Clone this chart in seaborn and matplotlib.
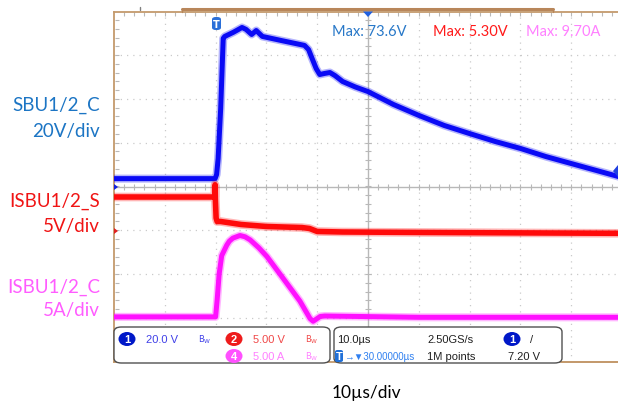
import numpy as np
import pandas as pd
import matplotlib
matplotlib.use("Agg")
import matplotlib.pyplot as plt
import seaborn as sns
from matplotlib.patches import FancyBboxPatch, Ellipse, Polygon

# ---- captured waveforms (time in µs) ----
# CH1: SBU1/2_C voltage, 20 V/div
t_ch1 = [0, 19.9, 20.2, 20.5, 21.0, 21.5, 21.8, 23.5, 25.2, 26.0, 27.1, 28.0, 29.2,
         33.0, 37.5, 38.3, 39.0, 39.8, 40.5, 41.5, 42.5, 43.5, 45.0, 47.5, 50.0,
         55.0, 60.0, 65.0, 70.0, 75.0, 80.0, 85.0, 90.0, 95.0, 100.0]
v_ch1 = [3.6, 3.6, 5.5, 12.8, 35.7, 67.7, 68.6, 70.5, 72.7, 71.8, 69.5, 71.3, 68.6,
         66.7, 64.5, 62.6, 58.5, 53.9, 51.2, 51.7, 52.1, 50.7, 48.0, 45.5, 43.4,
         37.5, 32.5, 27.9, 24.2, 20.6, 17.4, 13.7, 10.5, 7.3, 4.1]

# CH2: ISBU1/2_S voltage, 5 V/div
t_ch2 = [0, 19.85, 19.9, 19.95, 20.1, 20.3, 21.0, 25.0, 30.0, 37.0, 38.5, 40.0,
         45.0, 60.0, 80.0, 100.0]
v_ch2 = [3.8, 3.8, 5.2, 3.6, 1.4, 1.0, 1.0, 0.66, 0.43, 0.31, 0.2, -0.14,
         -0.2, -0.25, -0.3, -0.35]

# CH4: ISBU1/2_C current, 5 A/div
t_ch4 = [0, 20.0, 20.3, 20.7, 21.2, 22.2, 22.7, 23.4, 24.8, 25.8, 26.8, 28.5,
         30.1, 33.3, 36.6, 38.6, 39.2, 40.6, 41.5, 60.0, 100.0]
i_ch4 = [0.1, 0.1, 2.0, 5.0, 7.1, 8.3, 8.75, 9.1, 9.4, 9.25, 8.9, 8.0,
         7.0, 4.5, 1.9, -0.1, -0.4, 0.15, 0.2, 0.05, 0.05]

# channel scale (per div) and ground position (div from centre)
ch1_scale, ch1_pos = 20.0, 0
ch2_scale, ch2_pos = 5.0, -1
ch4_scale, ch4_pos = 5.0, -3

sns.set_theme(style="white")
plt.rcParams['font.family'] = ['Lato', 'DejaVu Sans']

W, H = 618, 406
fig = plt.figure(figsize=(W / 100, H / 100), dpi=100)
fig.patch.set_facecolor('white')


def fx(px):
    return px / W


def fy(py):
    return 1 - py / H


X0, X1 = 114, 622
Y0, Y1 = 12.5, 362.5
rect = [fx(X0), fy(Y1), (X1 - X0) / W, (Y1 - Y0) / H]

# graticule axes, in divisions
ax = fig.add_axes(rect)
ax.set_xlim(0, 100)
ax.set_ylim(-4, 4)
ax.set_facecolor('white')
ax.set_xticks([])
ax.set_yticks([])
for s in ['left', 'top', 'bottom']:
    ax.spines[s].set_color('#C49A6C')
    ax.spines[s].set_linewidth(1.3)
ax.spines['right'].set_visible(False)

grid_c = '#CACACA'
for xv in range(10, 100, 10):
    if xv != 50:
        ax.axvline(xv, color=grid_c, lw=0.9, ls=(0, (1, 4)), zorder=0)
for yv in range(-3, 4):
    if yv != 0:
        ax.axhline(yv, color=grid_c, lw=0.9, ls=(0, (1, 4)), zorder=0)
ax.axvline(50, color='#B8B8B8', lw=1.0, zorder=0)
ax.axhline(0, color='#B8B8B8', lw=1.0, zorder=0)
# minor ticks on centre lines and edges
xt = np.arange(2, 100, 2)
yt = np.arange(-3.8, 4.0, 0.2)
ax.scatter(xt, np.zeros_like(xt), marker='|', s=14, color='#B8B8B8', lw=0.8, zorder=0)
ax.scatter(np.full_like(yt, 50), yt, marker='_', s=14, color='#B8B8B8', lw=0.8, zorder=0)
ax.scatter(xt, np.full_like(xt, 3.95, dtype=float), marker='|', s=8, color='#B8B8B8', lw=0.8, zorder=0)
ax.scatter(np.full_like(yt, 0.6), yt, marker='_', s=8, color='#B8B8B8', lw=0.8, zorder=0)


# one overlay axes per channel, each in its own physical units
def channel_axes(scale, pos):
    a = fig.add_axes(rect, sharex=ax)
    a.set_ylim((-4 - pos) * scale, (4 - pos) * scale)
    a.set_xlim(0, 100)
    a.patch.set_alpha(0)
    a.axis('off')
    return a


ax1 = channel_axes(ch1_scale, ch1_pos)
ax2 = channel_axes(ch2_scale, ch2_pos)
ax4 = channel_axes(ch4_scale, ch4_pos)

df1 = pd.DataFrame({'t': t_ch1, 'v': v_ch1})
df2 = pd.DataFrame({'t': t_ch2, 'v': v_ch2})
df4 = pd.DataFrame({'t': t_ch4, 'v': i_ch4})


def trace(df, a, color, lw):
    # soft outer edge of the acquisition band, then its solid core
    sns.lineplot(data=df, x='t', y='v', ax=a, color=color, lw=lw + 2.2, alpha=0.3,
                 estimator=None, sort=False, solid_joinstyle='round')
    sns.lineplot(data=df, x='t', y='v', ax=a, color=color, lw=lw,
                 estimator=None, sort=False, solid_joinstyle='round')
    a.set_xlim(0, 100)
    a.axis('off')


trace(df1, ax1, '#0A0AF5', 3.6)
trace(df2, ax2, '#FF0A0A', 4.0)
trace(df4, ax4, '#FF10FF', 3.6)


# ---- markers on the display edges ----
def tri(points, color):
    fig.patches.append(Polygon([(fx(x), fy(y)) for x, y in points], closed=True,
                               transform=fig.transFigure, color=color, lw=0))


tri([(114, 185), (118, 188), (114, 191)], '#1020E0')      # CH1 ground
tri([(114, 229), (118, 232), (114, 235)], '#E02020')      # CH2 ground
tri([(363, 12.5), (373, 12.5), (368, 18)], '#2060E0')     # horizontal position
tri([(618, 166), (613, 172), (618, 178)], '#2040E0')      # trigger level

# record overview bar above the display
fig.add_artist(plt.Line2D([fx(182), fx(553)], [fy(10), fy(10)], color='#B8865A', lw=2.2))
fig.add_artist(plt.Line2D([fx(182), fx(182)], [fy(10), fy(13)], color='#B8865A', lw=1))
fig.add_artist(plt.Line2D([fx(553), fx(553)], [fy(10), fy(13)], color='#B8865A', lw=1))
fig.add_artist(plt.Line2D([fx(140), fx(140)], [fy(8), fy(11)], color='#808080', lw=1))
fig.patches.append(FancyBboxPatch((fx(348), fy(12)), 4 / W, 3 / H, boxstyle='square,pad=0',
                                  transform=fig.transFigure, color='#3070E0', lw=0))

# trigger point "T"
fig.patches.append(FancyBboxPatch((fx(212), fy(31)), 9 / W, 13 / H,
                                  boxstyle='round,pad=0,rounding_size=0.006',
                                  transform=fig.transFigure, color='#2A6FD8', lw=0))
fig.text(fx(216.5), fy(24.5), 'T', color='white', fontsize=7, fontweight='bold',
         ha='center', va='center', family=['DejaVu Sans'])

# ---- measurement readouts ----
fig.text(fx(332), fy(32), 'Max: 73.6V', color='#2878C8', fontsize=10.5, va='center')
fig.text(fx(433), fy(32), 'Max: 5.30V', color='#FF1A1A', fontsize=10.5, va='center')
fig.text(fx(526), fy(32), 'Max: 9.70A', color='#FF80FF', fontsize=10.5, va='center')

# ---- channel labels ----
lab = dict(fontsize=13.5, ha='right', va='center')
fig.text(fx(100), fy(105), 'SBU1/2_C', color='#1C75C4', **lab)
fig.text(fx(100), fy(132), '20V/div', color='#1C75C4', **lab)
fig.text(fx(100), fy(201), 'ISBU1/2_S', color='#F01414', **lab)
fig.text(fx(100), fy(227), '5V/div', color='#F01414', **lab)
fig.text(fx(100), fy(287), 'ISBU1/2_C', color='#FF5CFF', **lab)
fig.text(fx(100), fy(311), '5A/div', color='#FF5CFF', **lab)

fig.text(fx(366), fy(393), '10µs/div', color='black', fontsize=12.5, ha='center', va='center')

# ---- settings panel ----
for bx0, bx1 in [(114, 330), (334, 562)]:
    fig.patches.append(FancyBboxPatch((fx(bx0), fy(364)), (bx1 - bx0) / W, 36 / H,
                                      boxstyle='round,pad=0,rounding_size=0.012',
                                      transform=fig.transFigure, facecolor='white',
                                      edgecolor='#505050', lw=1.0, zorder=5))

narrow = ['Liberation Sans', 'DejaVu Sans']
small = dict(fontsize=8, va='center', family=narrow, zorder=6)


def badge(x, y, txt, color):
    fig.patches.append(Ellipse((fx(x), fy(y)), 17 / W, 14 / H, transform=fig.transFigure,
                               color=color, lw=0, zorder=6))
    fig.text(fx(x), fy(y), txt, color='white', ha='center', fontweight='bold', **small)


bw = dict(fontsize=6, va='center', family=['DejaVu Sans'], zorder=6)
badge(127, 340, '1', '#0018C8')
fig.text(fx(146), fy(340), '20.0 V', color='#4040E8', **small)
fig.text(fx(198), fy(340), r'$\mathregular{B_W}$', color='#4040E8', **bw)
badge(234, 340, '2', '#EE1C1C')
fig.text(fx(253), fy(340), '5.00 V', color='#F04848', **small)
fig.text(fx(305), fy(340), r'$\mathregular{B_W}$', color='#F04848', **bw)
badge(234, 357, '4', '#FF50FF')
fig.text(fx(253), fy(357), '5.00 A', color='#FF80FF', **small)
fig.text(fx(305), fy(357), r'$\mathregular{B_W}$', color='#FF80FF', **bw)

fig.text(fx(337), fy(340), '10.0µs', color='#202020', **small)
fig.text(fx(427), fy(340), '2.50GS/s', color='#202020', **small)
badge(512, 340, '1', '#0018C8')
fig.text(fx(530), fy(340), '/', color='#202020', **small)
fig.patches.append(FancyBboxPatch((fx(335), fy(363)), 8 / W, 12 / H,
                                  boxstyle='round,pad=0,rounding_size=0.004',
                                  transform=fig.transFigure, color='#2070D8', lw=0, zorder=6))
fig.text(fx(339), fy(357), 'T', color='white', ha='center', fontweight='bold', **small)
fig.text(fx(344), fy(357), '→▼30.00000µs', color='#3080F0', fontsize=7, va='center',
         family=narrow, zorder=6)
fig.text(fx(427), fy(357), '1M points', color='#202020', **small)
fig.text(fx(508), fy(357), '7.20 V', color='#202020', **small)

# bottom edge of the display to the right of the panel
fig.add_artist(plt.Line2D([fx(562), fx(618)], [fy(363), fy(363)], color='#C49A6C', lw=1.3))

fig.savefig('out.png', dpi=100, facecolor='white')
